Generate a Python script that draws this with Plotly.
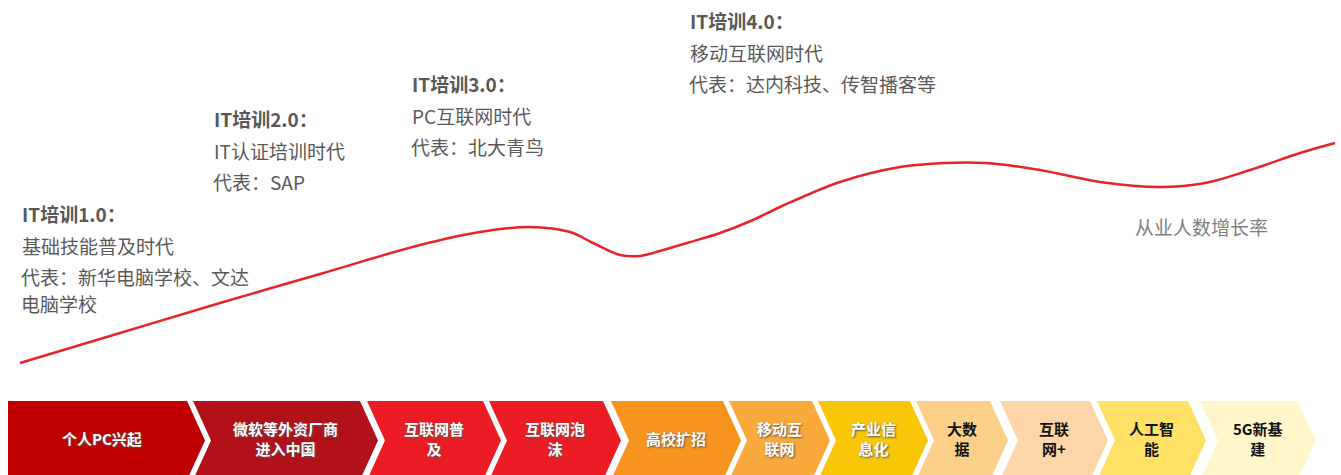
import plotly.graph_objects as go

# Growth-rate curve of IT practitioners (unitless trend line)
curve_x = [20, 120, 220, 320, 420, 480, 530, 570, 593, 620, 640, 653, 687, 720,
           753, 780, 840, 900, 945, 985, 1040, 1100, 1160, 1205, 1250, 1300, 1335]
curve_y = [112, 142, 172, 201, 230, 243, 248, 243, 232, 220, 219, 222, 232, 242,
           255, 268, 293, 308, 312, 312, 305, 293, 288, 292, 305, 322, 332]
curve_label = "从业人数增长率"

# Era text blocks
era_titles = ["IT培训1.0：", "IT培训2.0：", "IT培训3.0：", "IT培训4.0："]
era_names = ["基础技能普及时代", "IT认证培训时代", "PC互联网时代", "移动互联网时代"]
era_reps = [["代表：新华电脑学校、文达", "电脑学校"], ["代表：SAP"], ["代表：北大青鸟"],
            ["代表：达内科技、传智播客等"]]

# Timeline stages
stages = ["个人PC兴起", "微软等外资厂商<br>进入中国", "互联网普<br>及", "互联网泡<br>沫",
          "高校扩招", "移动互<br>联网", "产业信<br>息化", "大数<br>据", "互联<br>网+",
          "人工智<br>能", "5G新基<br>建"]
stage_colors = ["#C00000", "#B3111A", "#EC1C24", "#EC1C24", "#F7941E", "#FAAA3C",
                "#FAC608", "#FDD089", "#FCD5A8", "#FFE265", "#FFF6CC"]
stage_text_colors = ["white"] * 7 + ["#111111"] * 4

# Layout geometry (pixel-scaled axes)
W, H = 1341, 475
stage_left = [8, 193, 367, 489, 611, 729, 818, 916, 1000, 1097, 1200]
stage_right = [187, 360, 483, 603, 723, 812, 910, 990, 1090, 1188, 1298]
chev_top, chev_bot, tip = 401, 480, 18
era_pos = [(20, 213), (212, 118), (410, 83), (688, 20)]

fig = go.Figure()
fig.add_trace(go.Scatter(x=curve_x, y=[H - v for v in curve_y], mode="lines",
                         line=dict(color="#E8232A", width=2.5, shape="spline", smoothing=1.0),
                         hoverinfo="skip", showlegend=False))

shapes = []
annotations = []
mid = (chev_top + chev_bot) / 2
for i, (l, r) in enumerate(zip(stage_left, stage_right)):
    if i == 0:
        path = f"M{l},{chev_top} L{r},{chev_top} L{r+tip},{mid} L{r},{chev_bot} L{l},{chev_bot} Z"
        cx = (l + r) / 2 + 4
    else:
        path = (f"M{l},{chev_top} L{r},{chev_top} L{r+tip},{mid} L{r},{chev_bot} "
                f"L{l},{chev_bot} L{l+tip},{mid} Z")
        cx = (l + r) / 2 + tip / 2
    shapes.append(dict(type="path", path=path, xref="x", yref="y",
                       fillcolor=stage_colors[i], line=dict(width=0), layer="below"))
    tc = stage_text_colors[i]
    annotations.append(dict(x=cx, y=438, text=f"<b>{stages[i]}</b>", showarrow=False,
                            xanchor="center", yanchor="middle",
                            font=dict(family="Noto Sans CJK SC", size=15, color=tc,
                                      shadow="1px 1px 2px #555" if tc == "white" else "none"),
                            align="center"))

era_font = dict(family="Noto Sans CJK SC", size=19, color="#595959")
for (x0, y0), t, n, reps in zip(era_pos, era_titles, era_names, era_reps):
    annotations.append(dict(x=x0, y=y0, text=f"<b>{t}</b>", showarrow=False,
                            xanchor="left", yanchor="middle", font=era_font))
    annotations.append(dict(x=x0, y=y0 + 32, text=n, showarrow=False,
                            xanchor="left", yanchor="middle", font=era_font))
    for k, line in enumerate(reps):
        annotations.append(dict(x=x0, y=y0 + 63 + 27 * k, text=line, showarrow=False,
                                xanchor="left", yanchor="middle", font=era_font,
                                borderpad=0))

annotations.append(dict(x=1133, y=226, text=curve_label, showarrow=False,
                        xanchor="left", yanchor="middle",
                        font=dict(family="Noto Sans CJK SC", size=19, color="#7F7F7F")))

fig.update_layout(width=W, height=H, margin=dict(l=0, r=0, t=0, b=0),
                  paper_bgcolor="white", plot_bgcolor="white",
                  xaxis=dict(range=[0, W], visible=False, fixedrange=True),
                  yaxis=dict(range=[H, 0], visible=False, fixedrange=True),
                  shapes=shapes, annotations=annotations)

fig.write_html("out.html")
